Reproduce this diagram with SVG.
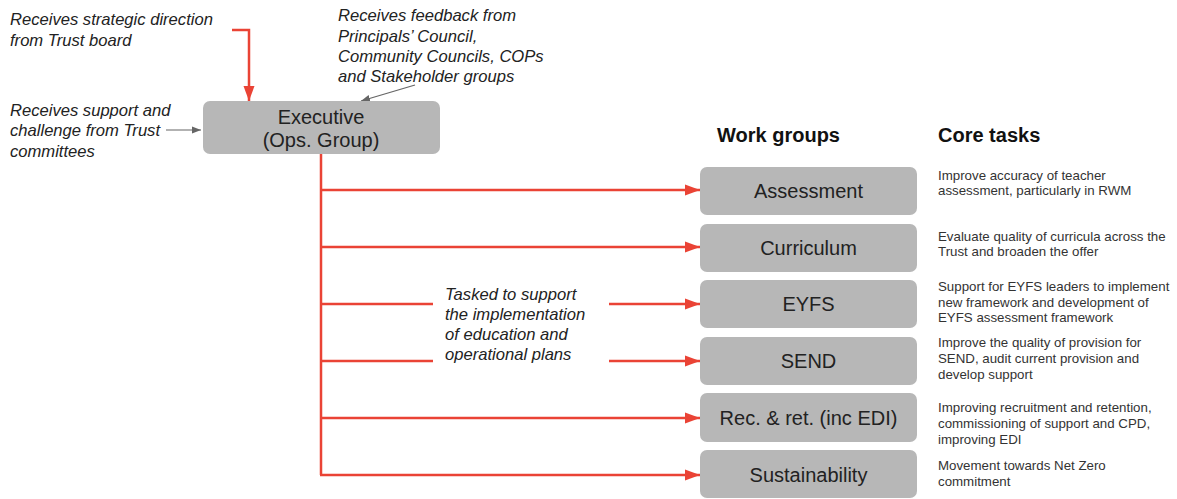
<svg xmlns="http://www.w3.org/2000/svg" width="1177" height="499" viewBox="0 0 1177 499">
  <style>
    .note { font-family: "Liberation Sans", Arial, sans-serif; font-style: italic; font-size: 16.6px; fill: #222; }
    .box { fill: #b7b7b7; }
    .label { font-family: "Liberation Sans", Arial, sans-serif; font-size: 20px; fill: #222; text-anchor: middle; }
    .head { font-family: "Liberation Sans", Arial, sans-serif; font-weight: bold; font-size: 20px; fill: #111; }
    .task { font-family: "Liberation Sans", Arial, sans-serif; font-size: 13.3px; fill: #333; }
    .red { fill: none; stroke: #ea4335; stroke-width: 2.5; }
    .grey { fill: none; stroke: #666; stroke-width: 1.2; }
  </style>
  <defs>
    <marker id="redHead" markerUnits="userSpaceOnUse" markerWidth="16" markerHeight="12" refX="15" refY="6" orient="auto">
      <path d="M0,0.5 L15,6 L0,11.5 Z" fill="#ea4335"/>
    </marker>
    <marker id="greyHead" markerUnits="userSpaceOnUse" markerWidth="10" markerHeight="8" refX="9" refY="4" orient="auto">
      <path d="M0,0.5 L9,4 L0,7.5 Z" fill="#666"/>
    </marker>
  </defs>

  <!-- free-standing annotations -->
  <g id="notes">
    <text class="note" x="10" y="25">Receives strategic direction</text>
    <text class="note" x="10" y="46">from Trust board</text>
    <text class="note" x="338" y="21">Receives feedback from</text>
    <text class="note" x="338" y="42">Principals’ Council,</text>
    <text class="note" x="338" y="62">Community Councils, COPs</text>
    <text class="note" x="338" y="82">and Stakeholder groups</text>
    <text class="note" x="10" y="116">Receives support and</text>
    <text class="note" x="10" y="136">challenge from Trust</text>
    <text class="note" x="10" y="157">committees</text>
    <text class="note" x="445" y="300">Tasked to support</text>
    <text class="note" x="445" y="320">the implementation</text>
    <text class="note" x="445" y="340">of education and</text>
    <text class="note" x="445" y="360">operational plans</text>
  </g>

  <!-- connectors -->
  <g id="connectors">
    <path class="red" d="M232,30 H249 V101" marker-end="url(#redHead)"/>
    <path class="grey" d="M415,85 L361,101" marker-end="url(#greyHead)"/>
    <path class="grey" d="M166,130 L201,130" marker-end="url(#greyHead)"/>
    <path class="red" d="M321,153 V475"/>
    <path class="red" d="M320,190 H700" marker-end="url(#redHead)"/>
    <path class="red" d="M320,247 H700" marker-end="url(#redHead)"/>
    <path class="red" d="M320,304 H433"/>
    <path class="red" d="M609,304 H700" marker-end="url(#redHead)"/>
    <path class="red" d="M320,361 H433"/>
    <path class="red" d="M609,361 H700" marker-end="url(#redHead)"/>
    <path class="red" d="M320,418 H700" marker-end="url(#redHead)"/>
    <path class="red" d="M320,475 H700" marker-end="url(#redHead)"/>
  </g>

  <g id="executive">
    <rect class="box" x="203" y="101" width="237" height="53" rx="7"/>
    <text class="label" x="321" y="124">Executive</text>
    <text class="label" x="321" y="147">(Ops. Group)</text>
  </g>

  <g id="headers">
    <text class="head" x="717" y="142">Work groups</text>
    <text class="head" x="938" y="142">Core tasks</text>
  </g>

  <g id="assessment">
    <rect class="box" x="700" y="167" width="217" height="48" rx="7"/>
    <text class="label" x="808.5" y="198">Assessment</text>
    <text class="task" x="938" y="180">Improve accuracy of teacher</text>
    <text class="task" x="938" y="195">assessment, particularly in RWM</text>
  </g>

  <g id="curriculum">
    <rect class="box" x="700" y="224" width="217" height="48" rx="7"/>
    <text class="label" x="808.5" y="255">Curriculum</text>
    <text class="task" x="938" y="241">Evaluate quality of curricula across the</text>
    <text class="task" x="938" y="256">Trust and broaden the offer</text>
  </g>

  <g id="eyfs">
    <rect class="box" x="700" y="280" width="217" height="48" rx="7"/>
    <text class="label" x="808.5" y="311">EYFS</text>
    <text class="task" x="938" y="291">Support for EYFS leaders to implement</text>
    <text class="task" x="938" y="307">new framework and development of</text>
    <text class="task" x="938" y="322">EYFS assessment framework</text>
  </g>

  <g id="send">
    <rect class="box" x="700" y="337" width="217" height="48" rx="7"/>
    <text class="label" x="808.5" y="368">SEND</text>
    <text class="task" x="938" y="347">Improve the quality of provision for</text>
    <text class="task" x="938" y="363">SEND, audit current provision and</text>
    <text class="task" x="938" y="379">develop support</text>
  </g>

  <g id="recruitment">
    <rect class="box" x="700" y="393" width="217" height="49" rx="7"/>
    <text class="label" x="808.5" y="425">Rec. &amp; ret. (inc EDI)</text>
    <text class="task" x="938" y="412">Improving recruitment and retention,</text>
    <text class="task" x="938" y="428">commissioning of support and CPD,</text>
    <text class="task" x="938" y="444">improving EDI</text>
  </g>

  <g id="sustainability">
    <rect class="box" x="700" y="450" width="217" height="48" rx="7"/>
    <text class="label" x="808.5" y="482">Sustainability</text>
    <text class="task" x="938" y="470">Movement towards Net Zero</text>
    <text class="task" x="938" y="486">commitment</text>
  </g>
</svg>
